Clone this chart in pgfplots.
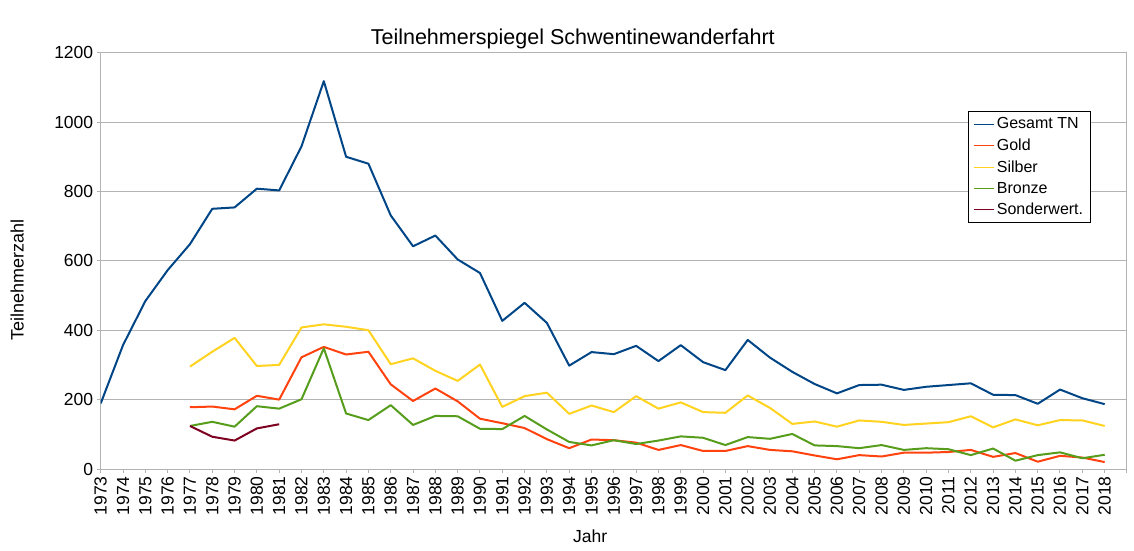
\documentclass[border=0pt]{standalone}
\usepackage{fontspec}
\setmainfont{Liberation Sans}
\usepackage{pgfplots}
\usepackage{pgfplotstable}
\pgfplotsset{compat=1.18}
\definecolor{cGes}{HTML}{004586}
\definecolor{cGold}{HTML}{FF420E}
\definecolor{cSil}{HTML}{FFD320}
\definecolor{cBro}{HTML}{579D1C}
\definecolor{cSon}{HTML}{7E0021}
\definecolor{cGrid}{HTML}{B3B3B3}

\pgfplotstableread{
year ges
1973 189
1974 357
1975 484
1976 573
1977 648
1978 750
1979 754
1980 808
1981 803
1982 930
1983 1118
1984 900
1985 880
1986 731
1987 642
1988 673
1989 604
1990 565
1991 427
1992 479
1993 421
1994 298
1995 337
1996 331
1997 355
1998 311
1999 357
2000 308
2001 285
2002 372
2003 321
2004 280
2005 245
2006 218
2007 242
2008 243
2009 228
2010 237
2011 242
2012 247
2013 214
2014 213
2015 188
2016 229
2017 204
2018 187
}\gesamt

\pgfplotstableread{
year gold silber bronze
1977 178 295 124
1978 180 338 136
1979 172 378 122
1980 211 297 181
1981 200 300 174
1982 322 408 201
1983 352 417 348
1984 330 410 160
1985 338 400 141
1986 244 302 184
1987 196 319 127
1988 232 283 153
1989 195 254 152
1990 145 301 116
1991 132 179 115
1992 118 210 153
1993 86 220 114
1994 60 159 78
1995 85 183 68
1996 83 164 83
1997 76 210 72
1998 55 174 82
1999 69 192 94
2000 52 164 90
2001 52 162 69
2002 66 212 92
2003 55 176 87
2004 51 130 101
2005 39 137 68
2006 28 122 66
2007 40 140 60
2008 36 136 69
2009 47 127 55
2010 47 131 60
2011 49 135 57
2012 55 152 40
2013 35 120 59
2014 46 143 24
2015 21 126 40
2016 38 141 48
2017 33 140 31
2018 20 124 41
}\medals

\pgfplotstableread{
year son
1977 124
1978 93
1979 82
1980 117
1981 129
}\sonder

\begin{document}
\begin{tikzpicture}
\useasboundingbox (-100.7bp,-82bp) rectangle (1033.3bp,469bp);
\begin{axis}[
  at={(0,0)}, anchor=south west,
  scale only axis, width=1026.3bp, height=416.3bp,
  xmin=1973, xmax=2019, ymin=0, ymax=1200,
  xtick={1973,...,2018},
  extra x ticks={2019}, extra x tick labels={},
  ytick={0,200,...,1200},
  /pgf/number format/1000 sep={},
  /pgf/number format/assume math mode=true,
  tick pos=left, tick align=outside,
  major tick length=4bp,
  axis line style={cGrid, line width=1bp},
  tick style={cGrid, line width=1bp},
  ymajorgrids, grid style={cGrid, line width=1bp},
  tick label style={font=\fontsize{17.5bp}{21bp}\selectfont, text=black},
  xticklabel style={rotate=90, anchor=east},
  title={Teilnehmerspiegel Schwentinewanderfahrt},
  title style={at={(axis description cs:0.46,1)}, anchor=base, yshift=2.5bp, font=\fontsize{21.5bp}{25bp}\selectfont},
  xlabel={Jahr},
  xlabel style={at={(axis description cs:0.477,0)}, anchor=base, yshift=-73.7bp, font=\fontsize{17.5bp}{21bp}\selectfont},
  ylabel={Teilnehmerzahl},
  ylabel style={at={(axis description cs:-0.0750,0.454)}, anchor=base, font=\fontsize{18bp}{21bp}\selectfont},
  legend style={at={(axis description cs:0.9645,0.859)}, anchor=north east, draw=black, line width=0.8bp,
    font=\fontsize{16bp}{19bp}\selectfont, inner xsep=5bp, inner ysep=4bp, row sep=4.5bp,
    cells={anchor=west}},
  legend image code/.code={\draw[#1, line width=1bp] (0bp,0bp) -- (20bp,0bp);},
  every axis plot/.append style={line width=2bp, line join=round},
]
\addplot[cGes] table[x=year, y=ges] {\gesamt};
\addlegendentry{Gesamt TN}
\addplot[cGold] table[x=year, y=gold] {\medals};
\addlegendentry{Gold}
\addplot[cSil] table[x=year, y=silber] {\medals};
\addlegendentry{Silber}
\addplot[cBro] table[x=year, y=bronze] {\medals};
\addlegendentry{Bronze}
\addplot[cSon] table[x=year, y=son] {\sonder};
\addlegendentry{Sonderwert.}
\end{axis}
\end{tikzpicture}
\end{document}
